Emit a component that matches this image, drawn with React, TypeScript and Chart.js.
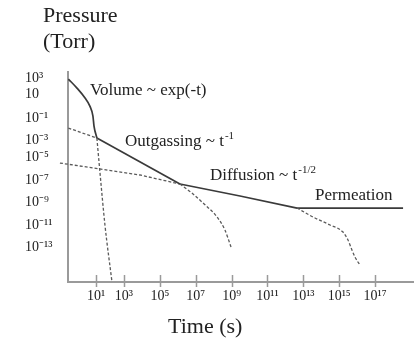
import React, { useEffect, useRef } from 'react';
import { Chart, registerables } from 'chart.js';

Chart.register(...registerables);

// Axis ticks (positions in decades, as drawn on the schematic)
const xTickPos = [1.44, 3, 5, 7, 9, 11, 13, 15, 17];
const xTickLabels = ['10¹', '10³', '10⁵', '10⁷', '10⁹', '10¹¹', '10¹³', '10¹⁵', '10¹⁷'];
const yTickPos = [2.13, 0.7, -1.45, -3.42, -4.94, -7, -8.97, -11.03, -13];
const yTickLabels = ['10³', '10', '10⁻¹', '10⁻³', '10⁻⁵', '10⁻⁷', '10⁻⁹', '10⁻¹¹', '10⁻¹³'];

// Curves: x = log10(time), y = log10(pressure)
const volumeT = [-0.1, 0.38, 0.83, 1.1, 1.27, 1.33, 1.49];
const volumeP = [2.04, 1.23, 0.34, -0.38, -1.27, -2.17, -3.24];
const volumeTailT = [1.49, 1.66, 1.94, 2.33];
const volumeTailP = [-3.24, -6.29, -11.03, -16.1];

const outgasHeadT = [-0.1, 1.49];
const outgasHeadP = [-2.35, -3.24];
const outgasT = [1.49, 6.12];
const outgasP = [-3.24, -7.36];
const outgasTailT = [6.12, 6.79, 7.41, 8.19, 8.63, 8.97];
const outgasTailP = [-7.36, -8.17, -9.06, -10.31, -11.48, -13.0];

const diffHeadT = [-0.57, 3.89, 6.12];
const diffHeadP = [-5.48, -6.55, -7.36];
const diffT = [6.12, 9.47, 12.65];
const diffP = [-7.36, -8.43, -9.51];
const diffTailT = [12.65, 13.54, 14.49, 15.21, 15.49, 15.71, 15.88, 16.16];
const diffTailP = [-9.51, -10.31, -11.03, -11.66, -12.37, -13.27, -13.9, -14.61];

const permT = [12.65, 18.56];
const permP = [-9.51, -9.51];

const SERIF = '"Liberation Serif", "Times New Roman", serif';
const SOLID = '#3a3a3a';
const DASH = '#5a5a5a';
const AXIS = '#9a9a9a';

const pts = (xs: number[], ys: number[]) => xs.map((x, i) => ({ x, y: ys[i] }));

const solid = (xs: number[], ys: number[], curve = false) => ({
  data: pts(xs, ys),
  borderColor: SOLID,
  borderWidth: 1.7,
  pointRadius: 0,
  showLine: true,
  fill: false,
  cubicInterpolationMode: curve ? 'monotone' : 'default',
  tension: 0,
});

const dashed = (xs: number[], ys: number[], curve = false, clip: any = undefined) => ({
  data: pts(xs, ys),
  borderColor: DASH,
  borderWidth: 1.3,
  borderDash: [3, 2],
  pointRadius: 0,
  showLine: true,
  fill: false,
  cubicInterpolationMode: curve ? 'monotone' : 'default',
  tension: 0,
  ...(clip !== undefined ? { clip } : {}),
});

const tickMarks = {
  id: 'tickMarks',
  afterDraw(chart: any) {
    const xs = chart.scales.x;
    const ctx = chart.ctx;
    const y0 = chart.chartArea.bottom;
    ctx.save();
    ctx.strokeStyle = AXIS;
    ctx.lineWidth = 1.5;
    xs.ticks.forEach((t: any) => {
      const px = Math.round(xs.getPixelForValue(t.value)) + 0.5;
      ctx.beginPath();
      ctx.moveTo(px, y0 - 7);
      ctx.lineTo(px, y0 + 5);
      ctx.stroke();
    });
    ctx.restore();
  },
};

const drawSup = (ctx: any, base: string, sup: string, x: number, y: number, size: number) => {
  ctx.font = `${size}px ${SERIF}`;
  ctx.fillText(base, x, y);
  const w = ctx.measureText(base).width;
  ctx.font = `${Math.round(size * 0.62)}px ${SERIF}`;
  ctx.fillText(sup, x + w + 1, y - size * 0.4);
};

const texts = {
  id: 'texts',
  afterDraw(chart: any) {
    const ctx = chart.ctx;
    ctx.save();
    ctx.fillStyle = '#222';
    ctx.textAlign = 'left';
    ctx.textBaseline = 'alphabetic';
    ctx.font = `22px ${SERIF}`;
    ctx.fillText('Pressure', 43, 22);
    ctx.fillText('(Torr)', 43, 48);
    ctx.fillText('Time (s)', 168, 333);
    ctx.font = `17px ${SERIF}`;
    ctx.fillText('Volume ~ exp(-t)', 90, 95);
    drawSup(ctx, 'Outgassing ~ t', '-1', 125, 146, 17);
    drawSup(ctx, 'Diffusion ~ t', '-1/2', 210, 180, 17);
    ctx.font = `17px ${SERIF}`;
    ctx.fillText('Permeation', 315, 200);
    ctx.restore();
  },
};

export default function App() {
  const ref = useRef<HTMLCanvasElement | null>(null);

  useEffect(() => {
    if (!ref.current) return;
    const chart = new Chart(ref.current, {
      type: 'scatter',
      data: {
        datasets: [
          solid(volumeT, volumeP, true),
          dashed(volumeTailT, volumeTailP, true),
          dashed(outgasHeadT, outgasHeadP),
          solid(outgasT, outgasP),
          dashed(outgasTailT, outgasTailP, true),
          dashed(diffHeadT, diffHeadP, false, false),
          solid(diffT, diffP, false),
          dashed(diffTailT, diffTailP, true),
          solid(permT, permP),
        ] as any,
      },
      options: {
        responsive: false,
        animation: false,
        layout: { padding: { left: 25, top: 72, right: 0, bottom: 0 } },
        plugins: { legend: { display: false }, tooltip: { enabled: false } },
        scales: {
          x: {
            type: 'linear',
            min: -0.12,
            max: 19.17,
            grid: { display: false, drawTicks: false },
            border: { display: true, color: AXIS, width: 2 },
            afterBuildTicks: (s: any) => {
              s.ticks = xTickPos.map((v) => ({ value: v }));
            },
            afterFit: (s: any) => {
              s.height = 59;
            },
            ticks: {
              autoSkip: false,
              maxRotation: 0,
              padding: 6,
              color: '#222',
              font: { family: SERIF, size: 14 },
              callback: (_v: any, i: number) => xTickLabels[i],
            },
          },
          y: {
            type: 'linear',
            min: -16.13,
            max: 2.67,
            grid: { display: false, drawTicks: false },
            border: { display: true, color: AXIS, width: 2 },
            afterBuildTicks: (s: any) => {
              s.ticks = yTickPos.map((v) => ({ value: v }));
            },
            afterFit: (s: any) => {
              s.width = 43;
            },
            ticks: {
              autoSkip: false,
              crossAlign: 'far',
              padding: 0,
              color: '#222',
              font: { family: SERIF, size: 14 },
              callback: (_v: any, i: number) => yTickLabels[i],
            },
          },
        },
      } as any,
      plugins: [tickMarks, texts],
    });
    return () => chart.destroy();
  }, []);

  return (
    <div style={{ position: 'absolute', left: 0, top: 0, width: 414, height: 341, background: '#fff' }}>
      <canvas ref={ref} width={414} height={341} style={{ display: 'block' }} />
    </div>
  );
}
